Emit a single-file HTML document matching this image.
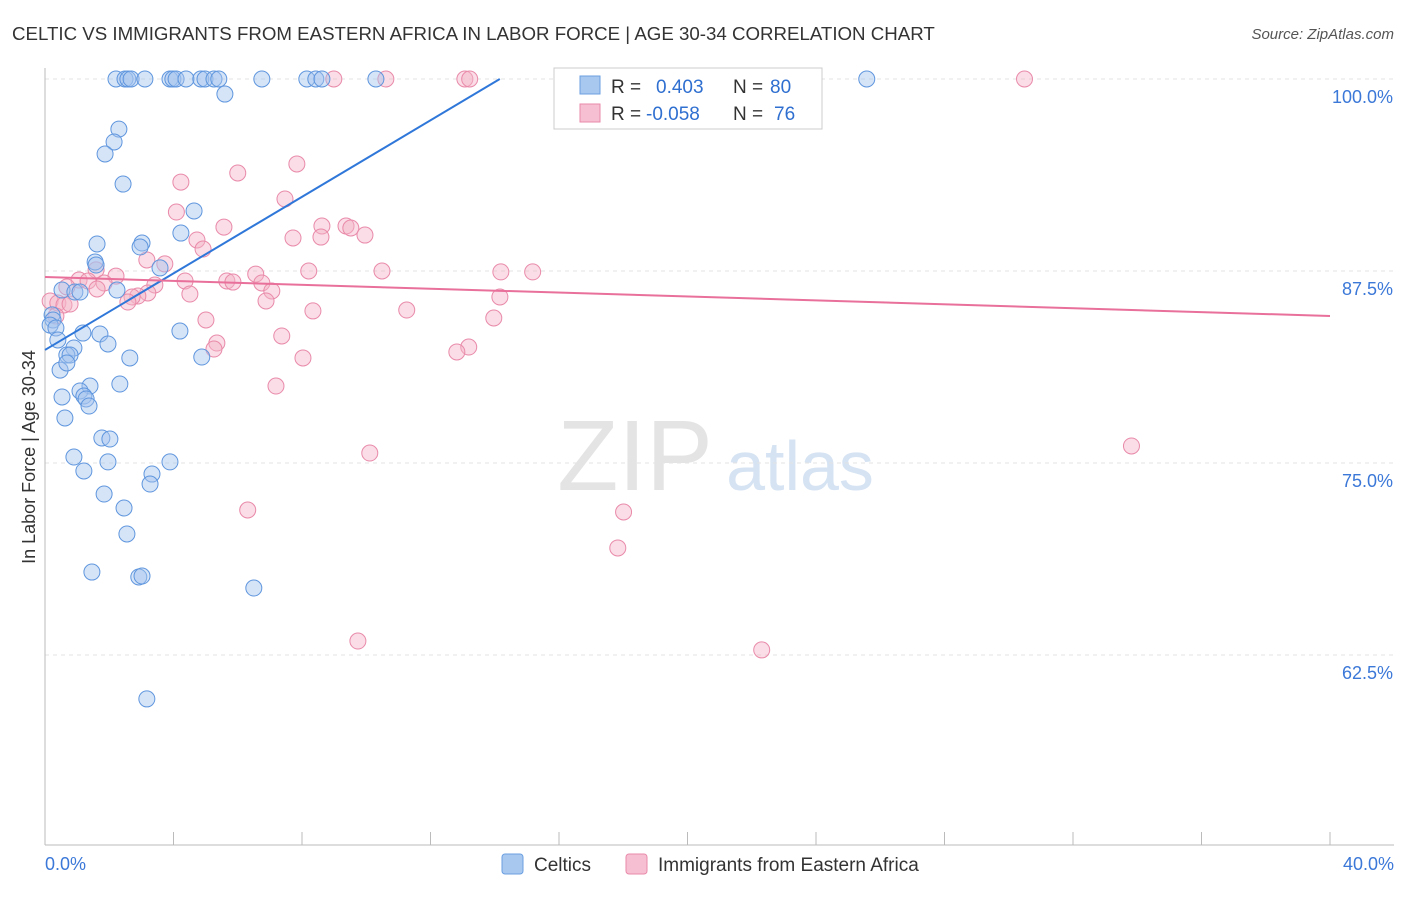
<!DOCTYPE html>
<html><head><meta charset="utf-8"><style>
body{margin:0;background:#fff;font-family:"Liberation Sans",sans-serif;}
svg text{font-family:"Liberation Sans",sans-serif;}
</style></head><body>
<svg id="chart" width="1406" height="892" viewBox="0 0 1406 892">
<text x="12" y="40" font-size="18.7" fill="#333">CELTIC VS IMMIGRANTS FROM EASTERN AFRICA IN LABOR FORCE | AGE 30-34 CORRELATION CHART</text>
<text x="1394" y="39" font-size="15" fill="#555" text-anchor="end" font-style="italic">Source: ZipAtlas.com</text>
<text x="635" y="490" font-size="100" fill="#e4e4e4" font-family="Liberation Serif" text-anchor="middle">ZIP</text>
<text x="800" y="490" font-size="70" fill="#d6e3f3" text-anchor="middle">atlas</text>
<g id="grid"></g>
<g id="axes"></g>
<g id="points"></g>
<g id="lines"></g>
<text x="35" y="457" font-size="18" fill="#333" text-anchor="middle" transform="rotate(-90 35 457)">In Labor Force | Age 30-34</text>
<g>
<rect x="554" y="68" width="268" height="61" fill="#fff" stroke="#ccc"/>
<rect x="580" y="76" width="20" height="18" fill="#a9c8f0" stroke="#6a9fe0"/>
<rect x="580" y="104" width="20" height="18" fill="#f7c0d2" stroke="#e98aa9"/>
<text x="611" y="93" font-size="19" fill="#333">R = </text><text x="656" y="93" font-size="19" fill="#2f6fd0">0.403</text>
<text x="733" y="93" font-size="19" fill="#333">N = </text><text x="770" y="93" font-size="19" fill="#2f6fd0">80</text>
<text x="611" y="120" font-size="19" fill="#333">R = </text><text x="646" y="120" font-size="19" fill="#2f6fd0">-0.058</text>
<text x="733" y="120" font-size="19" fill="#333">N = </text><text x="774" y="120" font-size="19" fill="#2f6fd0">76</text>
</g>
<g>
<rect x="502" y="854" width="21" height="20" rx="3" fill="#a9c8f0" stroke="#6a9fe0"/>
<text x="534" y="871" font-size="19" fill="#333">Celtics</text>
<rect x="626" y="854" width="21" height="20" rx="3" fill="#f7c0d2" stroke="#e98aa9"/>
<text x="658" y="871" font-size="19" fill="#333">Immigrants from Eastern Africa</text>
</g>
</svg>
<script>
const yTicks=[100,87.5,75,62.5];
const yTickLabels=["100.0%","87.5%","75.0%","62.5%"];
const xTickLabels=["0.0%","40.0%"];
const blueX=[2.21,2.49,2.58,2.68,3.11,3.89,3.98,4.08,4.39,4.85,4.98,5.26,5.41,6.75,8.15,8.43,8.62,10.30,25.58,5.60,2.30,2.15,1.87,2.43,4.64,4.23,1.62,3.02,2.96,1.56,1.59,3.58,0.53,0.93,1.09,2.24,0.22,0.25,0.16,0.34,1.18,1.71,4.20,1.96,0.40,0.90,0.68,0.78,2.64,4.88,0.47,0.68,1.40,2.33,1.09,1.21,0.53,1.28,1.37,0.62,1.77,2.02,0.90,1.96,3.89,3.33,1.21,3.27,1.84,2.46,2.55,1.46,2.92,3.02,6.50,3.17];
const blueY=[100,100,100,100,100,100,100,100,100,100,100,100,100,100,100,100,100,100,100,99.02,96.74,95.90,95.12,93.16,91.41,89.97,89.26,89.32,89.06,88.09,87.89,87.70,86.26,86.13,86.13,86.26,84.64,84.31,83.98,83.79,83.46,83.40,83.59,82.75,83.01,82.49,82.03,82.03,81.84,81.90,81.05,81.51,80.01,80.14,79.69,79.36,79.30,79.17,78.71,77.93,76.63,76.56,75.39,75.07,75.07,74.28,74.48,73.63,72.98,72.07,70.38,67.90,67.58,67.64,66.86,59.64];
const pinkX=[16.49,30.49,8.99,10.61,13.07,13.22,7.84,4.23,6.00,7.47,4.09,5.57,8.62,9.37,9.52,7.72,8.59,9.96,4.73,4.92,3.17,3.73,1.59,8.21,10.49,14.19,15.18,6.56,2.21,1.06,1.34,1.84,5.66,5.85,6.75,4.36,3.42,0.68,1.62,7.06,4.51,3.20,2.89,2.71,2.58,14.16,0.16,0.40,0.59,0.78,6.88,8.34,11.26,13.97,5.01,0.34,7.37,5.35,5.26,13.19,12.82,8.03,7.19,33.82,10.11,6.31,18.01,17.83,22.31,9.74];
const pinkY=[100,100,100,100,100,100,94.47,93.29,93.88,92.19,91.34,90.36,90.43,90.43,90.30,89.65,89.71,89.84,89.52,88.93,88.22,87.96,87.57,87.50,87.50,87.44,87.44,87.30,87.17,86.91,86.85,86.72,86.85,86.78,86.72,86.85,86.59,86.46,86.33,86.20,86.00,86.07,85.87,85.81,85.48,85.81,85.55,85.42,85.29,85.35,85.55,84.90,84.96,84.44,84.31,84.57,83.27,82.81,82.42,82.55,82.23,81.84,80.01,76.11,75.65,71.94,71.81,69.47,62.83,63.41];
const blueTrend=[82.36,1.246]; // intercept, slope
const pinkTrend=[87.11,-0.0635];
const xMin=0,xMax=40,x0=45,x1=1330;
const yTop=100,yTopPx=79,pxPerPct=15.36;
function xs(v){return x0+(v-xMin)/(xMax-xMin)*(x1-x0);}
function ys(v){return yTopPx+(yTop-v)*pxPerPct;}
const NS="http://www.w3.org/2000/svg";
function mk(tag,attrs,parent){const e=document.createElementNS(NS,tag);for(const k in attrs)e.setAttribute(k,attrs[k]);document.getElementById(parent).appendChild(e);return e;}
yTicks.forEach((t,i)=>{
 const l=mk('line',{x1:45,x2:1394,y1:ys(t),y2:ys(t),stroke:'#e3e3e3','stroke-dasharray':'4,4'},'grid');
 
 
 const tx=mk('text',{x:1393,y:ys(t)+24,'font-size':18,fill:'#3b78d8','text-anchor':'end'},'axes');
 tx.textContent=yTickLabels[i];
 
 
});
const ax=mk('line',{x1:45,x2:45,y1:68,y2:845,stroke:'#bbb'},'axes');


const bx=mk('line',{x1:45,x2:1394,y1:845,y2:845,stroke:'#bbb'},'axes');


for(let v=0;v<=40;v+=4){
 const t=mk('line',{x1:xs(v),x2:xs(v),y1:832,y2:845,stroke:'#bbb'},'axes');
 
 
}
[[xMin,'start',45],[xMax,'end',1394]].forEach((d,i)=>{
 const t=mk('text',{x:d[2],y:870,'font-size':18,fill:'#3b78d8','text-anchor':d[1]},'axes');
 t.textContent=xTickLabels[i];
 
 
});
function pts(X,Y,fill,stroke,name){
 X.forEach((x,i)=>{
  const c=mk('circle',{cx:xs(x),cy:ys(Y[i]),r:8,fill:fill,'fill-opacity':0.45,stroke:stroke,'stroke-width':1},'points');
  
  
 });
}
pts(pinkX,pinkY,'#f5b3c8','#e98aa9','immigrants-point');
pts(blueX,blueY,'#a3c3ee','#5f96de','celtics-point');
const bxEnd=(100-blueTrend[0])/blueTrend[1];
const bl=mk('line',{x1:xs(0),y1:ys(blueTrend[0]),x2:xs(bxEnd),y2:ys(100),stroke:'#2f77d9','stroke-width':2},'lines');


const pl=mk('line',{x1:xs(0),y1:ys(pinkTrend[0]),x2:xs(40),y2:ys(pinkTrend[0]+pinkTrend[1]*40),stroke:'#e8709a','stroke-width':2},'lines');


</script>
</body></html>
